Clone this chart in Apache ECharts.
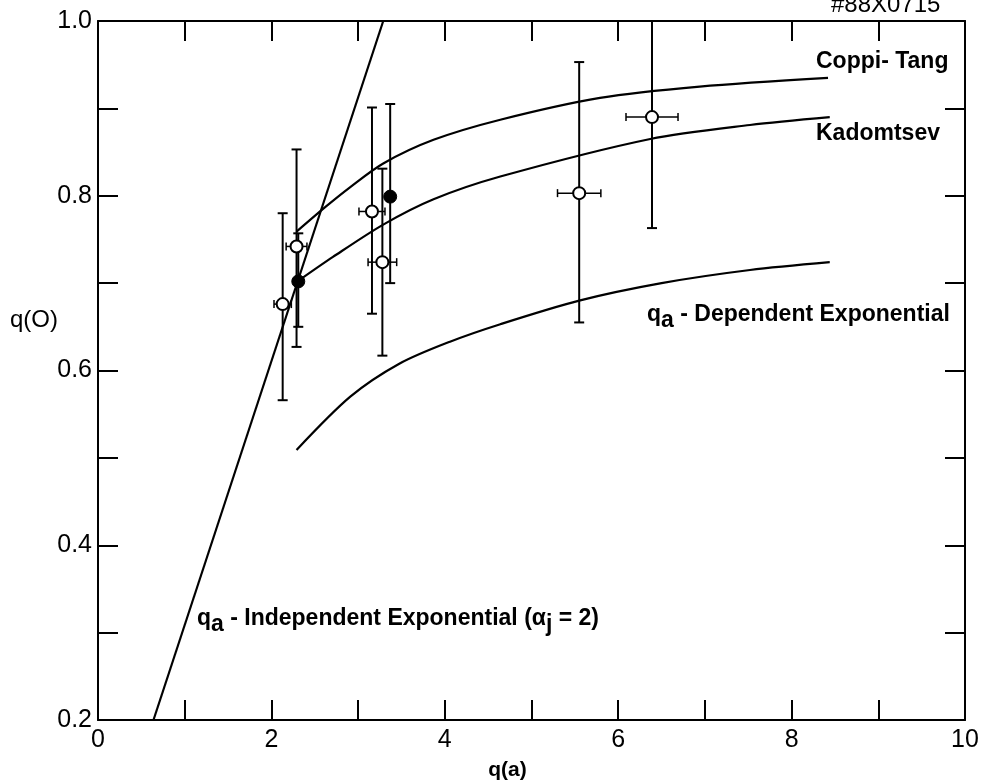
<!DOCTYPE html>
<html>
<head>
<meta charset="utf-8">
<script src="https://cdn.jsdelivr.net/npm/echarts@6/dist/echarts.min.js"></script>
<style>html,body{margin:0;padding:0;background:#fff;}#chart{width:983px;height:780px;}</style>
</head>
<body>
<div id="chart"></div>
<script>
// ---- data ----
const xTicks = [0, 2, 4, 6, 8, 10];
const yTicks = [0.2, 0.4, 0.6, 0.8, 1.0];

// open circles: q(a), q(0), low, high, q(a) error
const openQa   = [2.13, 2.29, 3.16, 3.28, 5.55, 6.39];
const openQ0   = [0.676, 0.742, 0.782, 0.724, 0.803, 0.890];
const openLow  = [0.566, 0.627, 0.665, 0.617, 0.655, 0.763];
const openHigh = [0.780, 0.853, 0.901, 0.831, 0.953, 1.000];
const openQaErr= [0.10, 0.12, 0.15, 0.165, 0.25, 0.30];

// filled circles
const fillQa   = [2.31, 3.37];
const fillQ0   = [0.702, 0.799];
const fillLow  = [0.650, 0.700];
const fillHigh = [0.757, 0.905];

// model curves
const coppiQa = [2.29, 2.62, 2.91, 3.29, 3.87, 4.64, 5.79, 6.94, 8.42];
const coppiQ0 = [0.759, 0.787, 0.810, 0.837, 0.864, 0.887, 0.912, 0.925, 0.935];
const kadQa   = [2.33, 2.71, 3.29, 3.87, 4.64, 6.37, 7.52, 8.44];
const kadQ0   = [0.704, 0.730, 0.767, 0.796, 0.822, 0.865, 0.881, 0.890];
const depQa   = [2.29, 2.91, 3.48, 4.06, 4.64, 5.55, 6.50, 7.52, 8.44];
const depQ0   = [0.509, 0.570, 0.608, 0.633, 0.653, 0.680, 0.700, 0.715, 0.724];
const indQa   = [0.64, 3.29];
const indQ0   = [0.20, 1.00];

const zip = (a, b) => a.map((v, i) => [v, b[i]]);

const FONT = 'Liberation Sans';
const chart = echarts.init(document.getElementById('chart'));

function errRender(params, api) {
  const x = api.value(0), y = api.value(1), lo = api.value(2), hi = api.value(3), xe = api.value(4);
  const pLo = api.coord([x, lo]), pHi = api.coord([x, hi]);
  const st = { stroke: '#000', lineWidth: 2 };
  const ch = [
    { type: 'line', shape: { x1: pLo[0], y1: pLo[1], x2: pHi[0], y2: pHi[1] }, style: st },
    { type: 'line', shape: { x1: pLo[0] - 5, y1: pLo[1], x2: pLo[0] + 5, y2: pLo[1] }, style: st },
    { type: 'line', shape: { x1: pHi[0] - 5, y1: pHi[1], x2: pHi[0] + 5, y2: pHi[1] }, style: st }
  ];
  if (xe > 0) {
    const pL = api.coord([x - xe, y]), pR = api.coord([x + xe, y]);
    const s2 = { stroke: '#000', lineWidth: 1.5 };
    ch.push({ type: 'line', shape: { x1: pL[0], y1: pL[1], x2: pR[0], y2: pR[1] }, style: s2 });
    ch.push({ type: 'line', shape: { x1: pL[0], y1: pL[1] - 4, x2: pL[0], y2: pL[1] + 4 }, style: s2 });
    ch.push({ type: 'line', shape: { x1: pR[0], y1: pR[1] - 4, x2: pR[0], y2: pR[1] + 4 }, style: s2 });
  }
  return { type: 'group', children: ch };
}

const axisLineStyle = { onZero: false, lineStyle: { color: '#000', width: 2 } };
const tickStyle = { show: true, inside: true, length: 20, lineStyle: { color: '#000', width: 2 } };

const curveStyle = { color: '#000', width: 2.2 };
const lineSeries = (data) => ({
  type: 'line', data, smooth: 0.3, showSymbol: false, symbol: 'none',
  lineStyle: curveStyle, itemStyle: { color: '#000' }, silent: true, z: 3
});

const rich = {
  b: { fontFamily: FONT, fontSize: 23, fontWeight: 'bold', fill: '#000', color: '#000' },
  s: { fontFamily: FONT, fontSize: 23, fontWeight: 'bold', fill: '#000', color: '#000', padding: [12, 0, 0, 0] }
};

chart.setOption({
  animation: false,
  backgroundColor: '#fff',
  grid: { left: 98, right: 18, top: 21, bottom: 60, containLabel: false, outerBoundsMode: 'none' },
  xAxis: [
    {
      type: 'value', min: 0, max: 10, interval: 1, position: 'bottom',
      name: 'q(a)', nameLocation: 'middle', nameGap: 40,
      nameTextStyle: { fontFamily: FONT, fontSize: 21, fontWeight: 'bold', color: '#000', padding: [0, 48, 0, 0] },
      axisLine: axisLineStyle, axisTick: tickStyle, splitLine: { show: false },
      axisLabel: {
        fontFamily: FONT, fontSize: 25, color: '#000', margin: 8,
        formatter: v => (xTicks.indexOf(Math.round(v)) >= 0 ? String(Math.round(v)) : '')
      }
    },
    {
      type: 'value', min: 0, max: 10, interval: 1, position: 'top',
      axisLine: axisLineStyle, axisTick: tickStyle, splitLine: { show: false },
      axisLabel: { show: false }
    }
  ],
  yAxis: [
    {
      type: 'value', min: 0.2, max: 1.0, interval: 0.1, position: 'left',
      axisLine: axisLineStyle, axisTick: tickStyle, splitLine: { show: false },
      axisLabel: {
        fontFamily: FONT, fontSize: 25, color: '#000', margin: 6,
        formatter: v => {
          const r = Math.round(v * 10) / 10;
          return yTicks.some(t => Math.abs(t - r) < 1e-6) ? r.toFixed(1) : '';
        }
      }
    },
    {
      type: 'value', min: 0.2, max: 1.0, interval: 0.1, position: 'right',
      axisLine: axisLineStyle, axisTick: tickStyle, splitLine: { show: false },
      axisLabel: { show: false }
    }
  ],
  series: [
    lineSeries(zip(coppiQa, coppiQ0)),
    lineSeries(zip(kadQa, kadQ0)),
    lineSeries(zip(depQa, depQ0)),
    Object.assign(lineSeries(zip(indQa, indQ0)), { smooth: false }),
    {
      type: 'custom', renderItem: errRender, z: 4, silent: true,
      data: openQa.map((q, i) => [q, openQ0[i], openLow[i], openHigh[i], openQaErr[i]])
    },
    {
      type: 'custom', renderItem: errRender, z: 4, silent: true,
      data: fillQa.map((q, i) => [q, fillQ0[i], fillLow[i], fillHigh[i], 0])
    },
    {
      type: 'scatter', data: zip(openQa, openQ0), symbol: 'circle', symbolSize: 12, z: 6,
      itemStyle: { color: '#fff', borderColor: '#000', borderWidth: 2, opacity: 1 }
    },
    {
      type: 'scatter', data: zip(fillQa, fillQ0), symbol: 'circle', symbolSize: 13, z: 6,
      itemStyle: { color: '#000', borderColor: '#000', borderWidth: 1, opacity: 1 }
    }
  ],
  graphic: [
    { type: 'text', left: 10, top: 308, style: { text: 'q(O)', fontFamily: FONT, fontSize: 24, fill: '#000' } },
    { type: 'text', left: 831, top: -7, style: { text: '#88X0715', fontFamily: FONT, fontSize: 24, fill: '#000' } },
    { type: 'text', left: 816, top: 50, style: { text: 'Coppi- Tang', fontFamily: FONT, fontSize: 23, fontWeight: 'bold', fill: '#000' } },
    { type: 'text', left: 816, top: 122, style: { text: 'Kadomtsev', fontFamily: FONT, fontSize: 23, fontWeight: 'bold', fill: '#000' } },
    { type: 'text', left: 647, top: 303, style: { text: '{b|q}{s|a}{b| - Dependent Exponential}', rich: rich } },
    { type: 'text', left: 197, top: 607, style: { text: '{b|q}{s|a}{b| - Independent Exponential (α}{s|j}{b| = 2)}', rich: rich } }
  ]
});
</script>
</body>
</html>
